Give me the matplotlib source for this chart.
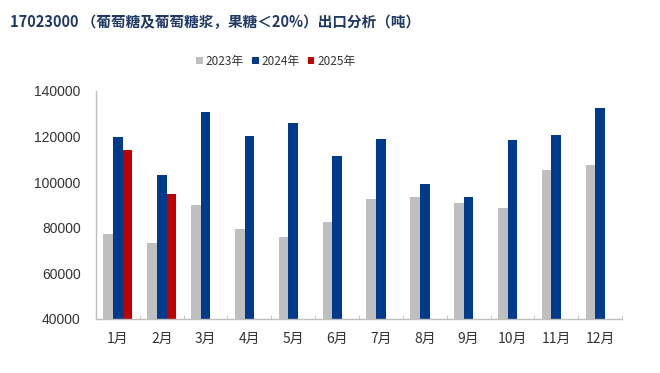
import matplotlib
matplotlib.use("Agg")
import matplotlib.pyplot as plt
import numpy as np

plt.rcParams['font.family'] = ['Noto Sans CJK SC', 'DejaVu Sans']

months = ["1月", "2月", "3月", "4月", "5月", "6月", "7月", "8月", "9月", "10月", "11月", "12月"]
s2023 = [77400, 73500, 89900, 79600, 76000, 82700, 92600, 93400, 90900, 88800, 105500, 107500]
s2024 = [119700, 103300, 130900, 120100, 125800, 111500, 119100, 99300, 93400, 118400, 120800, 132500]
s2025 = [114100, 94800]
series_names = ["2023年", "2024年", "2025年"]
colors = ["#BFBFBF", "#003A8C", "#C00000"]
title = "17023000 （葡萄糖及葡萄糖浆，果糖＜20%）出口分析（吨）"
yticks = [40000, 60000, 80000, 100000, 120000, 140000]

fig = plt.figure(figsize=(6.6, 3.73), dpi=100)
ax = fig.add_axes([96/660, 1-319/373, (622-96)/660, (319-91)/373])

x = np.arange(len(months))
w = 0.22
ax.bar(x - w, s2023, w, color=colors[0], label=series_names[0])
ax.bar(x, s2024, w, color=colors[1], label=series_names[1])
ax.bar(np.arange(len(s2025)) + w, s2025, w, color=colors[2], label=series_names[2])

ax.set_xlim(-0.5, len(months) - 0.5)
ax.set_ylim(40000, 140000)
ax.set_yticks(yticks)
ax.set_yticklabels([str(v) for v in yticks], fontsize=10, color="#333333", family=['Liberation Sans'])
ax.set_xticks(x)
ax.set_xticklabels(months, fontsize=10, color="#333333")
ax.set_xticks(np.arange(len(months) + 1) - 0.5, minor=True)
ax.tick_params(axis='x', which='major', length=0, pad=9)
ax.tick_params(axis='x', which='minor', length=3, direction='in', color="#BFBFBF")
ax.tick_params(axis='y', length=0, pad=11)
for s in ["top", "right"]:
    ax.spines[s].set_visible(False)
for s in ["left", "bottom"]:
    ax.spines[s].set_color("#BFBFBF")
    ax.spines[s].set_linewidth(1.0)

fig.text(10/660, 1-22/373, title, fontsize=10.5, fontweight='bold', color="#1F3864", va='center', ha='left')

leg = fig.legend(loc='center', bbox_to_anchor=(276/660, 1-61/373), ncol=3, frameon=False,
                 fontsize=8.5, handlelength=0.55, handleheight=0.55, handletextpad=0.25, columnspacing=0.7)
for t in leg.get_texts():
    t.set_color("#333333")

fig.savefig("out.png", dpi=100)
